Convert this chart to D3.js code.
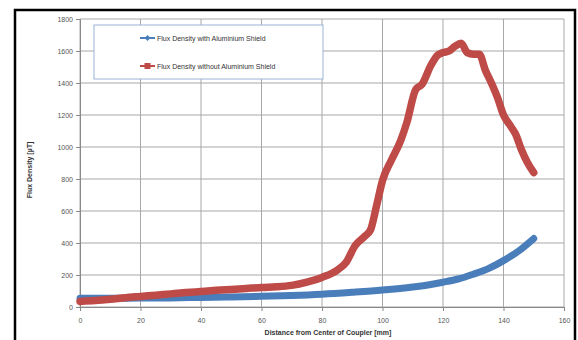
<!DOCTYPE html>
<html>
<head>
<meta charset="utf-8">
<script src="https://cdn.jsdelivr.net/npm/d3@7"></script>
<style>
  body { margin: 0; background: #fff; }
  svg { display: block; font-family: "Liberation Sans", Arial, sans-serif; }
</style>
</head>
<body>
<script>
// values
var blueX = [0, 10, 20, 30, 40, 50, 60, 70, 80, 90, 100, 110, 115, 120, 125, 130, 135, 140, 145, 150];
var blueY = [55, 55, 56, 57, 60, 63, 67, 72, 80, 92, 106, 125, 138, 155, 175, 205, 240, 290, 350, 428];

var redX = [0, 5, 10, 15, 20, 25, 30, 35, 40, 45, 50, 55, 60, 65, 70, 75, 80, 85, 88, 91, 94, 96, 98, 100, 103, 106, 108, 111, 113, 116, 118, 120, 122, 124, 126, 128, 130, 132, 134, 136, 138, 140, 142, 144, 146, 148, 150];
var redY = [35, 40, 48, 58, 66, 74, 82, 90, 97, 104, 110, 116, 122, 126, 135, 155, 185, 230, 280, 385, 440, 480, 630, 790, 920, 1040, 1150, 1360, 1390, 1510, 1570, 1590, 1600, 1630, 1648, 1590, 1580, 1580, 1480, 1400, 1310, 1200, 1140, 1080, 980, 900, 840];

var xTicks = [0, 20, 40, 60, 80, 100, 120, 140, 160];
var yTicks = [0, 200, 400, 600, 800, 1000, 1200, 1400, 1600, 1800];
var seriesNames = ["Flux Density with Aluminium Shield", "Flux Density without Aluminium Shield"];
var colors = ["#4a7ebb", "#be4b48"];

var width = 578, height = 340;
var svg = d3.select("body").append("svg").attr("width", width).attr("height", height);

// outer frame
svg.append("path")
  .attr("d", "M15,345 L15,10 L575,10 L575,345")
  .attr("fill", "none").attr("stroke", "#000").attr("stroke-width", 2.5);

var xScale = d3.scaleLinear().domain([0, 160]).range([80, 564]);
var yScale = d3.scaleLinear().domain([0, 1800]).range([307, 19]);

// gridlines
svg.append("g").selectAll("line").data(yTicks).enter().append("line")
  .attr("x1", xScale(0)).attr("x2", xScale(160))
  .attr("y1", d => yScale(d)).attr("y2", d => yScale(d))
  .attr("stroke", "#a8a8a8").attr("stroke-width", 1);
svg.append("g").selectAll("line").data(xTicks).enter().append("line")
  .attr("x1", d => xScale(d)).attr("x2", d => xScale(d))
  .attr("y1", yScale(0)).attr("y2", yScale(1800))
  .attr("stroke", "#a8a8a8").attr("stroke-width", 1);

var xAxis = d3.axisBottom(xScale).tickValues(xTicks).tickFormat(d3.format("d")).tickSize(4).tickPadding(7);
var yAxis = d3.axisLeft(yScale).tickValues(yTicks).tickFormat(d3.format("d")).tickSize(4).tickPadding(3);

var gx = svg.append("g").attr("transform", "translate(0," + yScale(0) + ")").call(xAxis);
var gy = svg.append("g").attr("transform", "translate(" + xScale(0) + ",0)").call(yAxis);
[gx, gy].forEach(g => {
  g.select(".domain").attr("stroke", "#888");
  g.selectAll(".tick line").attr("stroke", "#888");
  g.selectAll("text").attr("fill", "#555").style("font-size", "7px");
});

// series
var line = d3.line().x(d => xScale(d[0])).y(d => yScale(d[1])).curve(d3.curveMonotoneX);
var blueData = blueX.map((x, i) => [x, blueY[i]]);
var redData = redX.map((x, i) => [x, redY[i]]);

svg.append("path").datum(blueData).attr("d", line)
  .attr("fill", "none").attr("stroke", colors[0]).attr("stroke-width", 7)
  .attr("stroke-linejoin", "round").attr("stroke-linecap", "round");
svg.append("path").datum(redData).attr("d", line)
  .attr("fill", "none").attr("stroke", colors[1]).attr("stroke-width", 7.5)
  .attr("stroke-linejoin", "round").attr("stroke-linecap", "round");

// axis titles
svg.append("text")
  .attr("x", 328).attr("y", 335)
  .attr("text-anchor", "middle")
  .style("font-size", "7px").style("font-weight", "bold").attr("fill", "#333")
  .text("Distance from Center of Coupler [mm]");
svg.append("text")
  .attr("transform", "translate(32,170) rotate(-90)")
  .attr("text-anchor", "middle")
  .style("font-size", "7px").style("font-weight", "bold").attr("fill", "#333")
  .text("Flux Density [\u00b5T]");

// legend
var legend = svg.append("g");
legend.append("rect")
  .attr("x", 94).attr("y", 25).attr("width", 229).attr("height", 54)
  .attr("fill", "#fff").attr("stroke", "#9ab4d6").attr("stroke-width", 1);
var ly = [38, 66];
seriesNames.forEach((name, i) => {
  legend.append("line")
    .attr("x1", 140).attr("x2", 155).attr("y1", ly[i]).attr("y2", ly[i])
    .attr("stroke", colors[i]).attr("stroke-width", 2);
  if (i === 0) {
    legend.append("path")
      .attr("d", d3.symbol(d3.symbolDiamond2, 22)())
      .attr("transform", "translate(147.5," + ly[i] + ")")
      .attr("fill", colors[i]);
  } else {
    legend.append("rect")
      .attr("x", 144.5).attr("y", ly[i] - 3).attr("width", 6).attr("height", 6)
      .attr("fill", colors[i]);
  }
  legend.append("text")
    .attr("x", 157).attr("y", ly[i] + 2.5)
    .style("font-size", "7px").attr("fill", "#333")
    .text(name);
});
</script>
</body>
</html>
